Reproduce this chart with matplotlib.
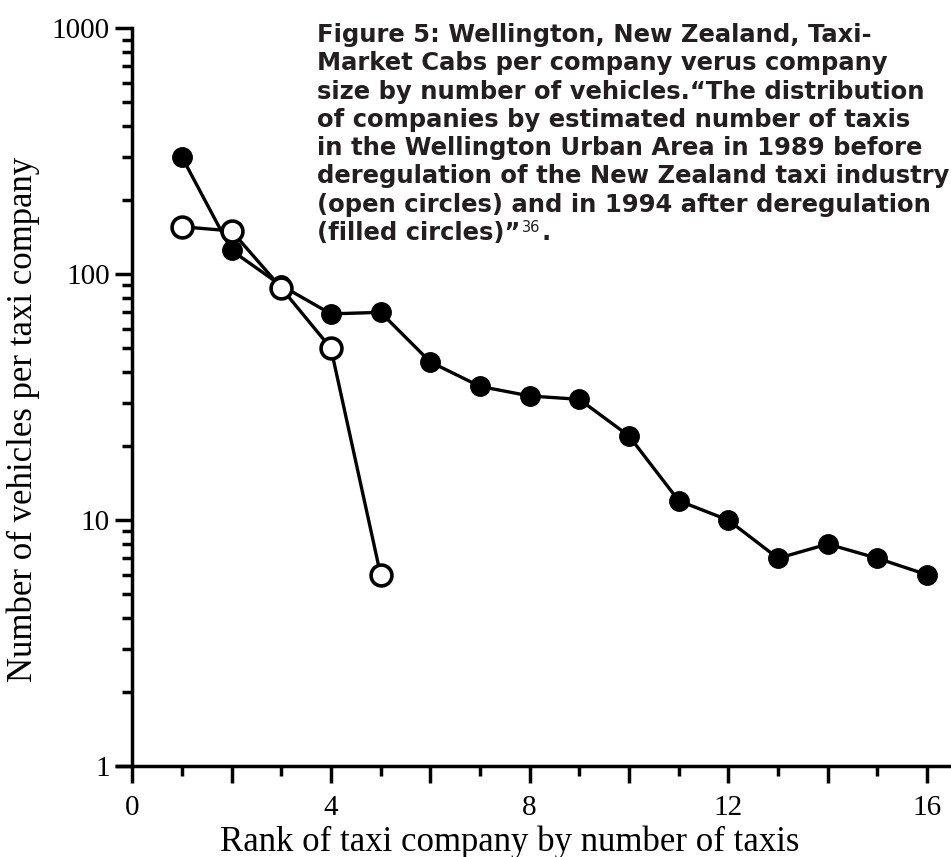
import matplotlib.pyplot as plt
import numpy as np
from matplotlib.ticker import LogLocator, NullFormatter, FixedLocator

# rank of company and number of vehicles
rank_1994 = [1, 2, 3, 4, 5, 6, 7, 8, 9, 10, 11, 12, 13, 14, 15, 16]
cabs_1994 = [300, 125, 90, 69, 70, 44, 35, 32, 31, 22, 12, 10, 7, 8, 7, 6]
rank_1989 = [1, 2, 3, 4, 5]
cabs_1989 = [156, 150, 88, 50, 6]

xtick_labels = ['0', '', '4', '', '8', '', '12', '', '16']

caption_lines = ["Figure 5: Wellington, New Zealand, Taxi-",
                 "Market Cabs per company verus company",
                 "size by number of vehicles.\u201cThe distribution",
                 "of companies by estimated number of taxis",
                 "in the Wellington Urban Area in 1989 before",
                 "deregulation of the New Zealand taxi industry",
                 "(open circles) and in 1994 after deregulation",
                 "(filled circles)\u201d"]
footnote = "36"

plt.rcParams['font.family'] = 'Liberation Serif'

fig = plt.figure(figsize=(9.51, 8.57), dpi=100)
ax = fig.add_axes([0.139, 0.106, 0.862, 0.861])

ax.plot(rank_1994, cabs_1994, color='black', lw=2.4, marker='o',
        markersize=14, markerfacecolor='black', markeredgecolor='black', zorder=3)
ax.plot(rank_1989, cabs_1989, color='black', lw=2.4, marker='o',
        markersize=15, markerfacecolor='white', markeredgecolor='black',
        markeredgewidth=2.6, zorder=4)

ax.set_yscale('log')
ax.set_ylim(1, 1000)
ax.set_xlim(0, 16.5)

for s in ['top', 'right']:
    ax.spines[s].set_visible(False)
for s in ['left', 'bottom']:
    ax.spines[s].set_linewidth(2.5)
ax.spines['bottom'].set_bounds(-0.3, 16.5)

ax.xaxis.set_major_locator(FixedLocator(np.arange(0, 17, 2)))
ax.set_xticklabels(xtick_labels)
ax.xaxis.set_minor_locator(FixedLocator(np.arange(1, 16, 2)))
ax.yaxis.set_minor_locator(LogLocator(base=10, subs=np.arange(2, 10), numticks=10))
ax.yaxis.set_minor_formatter(NullFormatter())
ax.set_yticks([1, 10, 100, 1000])
ax.set_yticklabels(['1', '10', '100', '1000'])

ax.tick_params(axis='both', which='major', direction='out', length=12,
               width=2.5, labelsize=21)
ax.tick_params(axis='x', which='major', pad=9)
ax.tick_params(axis='y', which='major', pad=4)
ax.tick_params(axis='both', which='minor', direction='out', length=7, width=2.5)

ax.set_xlabel('Rank of taxi company by number of taxis', fontsize=25, labelpad=0)
ax.xaxis.set_label_coords(0.461, -0.08)
ax.set_ylabel('Number of vehicles per taxi company', fontsize=25)
ax.yaxis.set_label_coords(-0.113, 0.47)

# caption, one line at a time so the footnote mark can follow the last line
base_y = 1 - 42 / 857
step = 28.3 / 857
line_texts = []
for i, line in enumerate(caption_lines):
    t = fig.text(0.333, base_y - i * step, line, fontsize=17.5, fontweight='bold',
                 family='DejaVu Sans', color='#231f20', va='baseline', ha='left')
    line_texts.append(t)
last = line_texts[-1]
sup = ax.annotate(footnote, xy=(1, 1), xycoords=last, xytext=(1, 1),
                  textcoords='offset points', va='top', ha='left', fontsize=10.5,
                  family='DejaVu Sans', color='#231f20', annotation_clip=False)
ax.annotate('.', xy=(1, 0), xycoords=(sup, last), xytext=(1, 0),
            textcoords='offset points', va='bottom', ha='left', fontsize=17.5,
            fontweight='bold', family='DejaVu Sans', color='#231f20',
            annotation_clip=False)

fig.savefig('out.png', dpi=100)
